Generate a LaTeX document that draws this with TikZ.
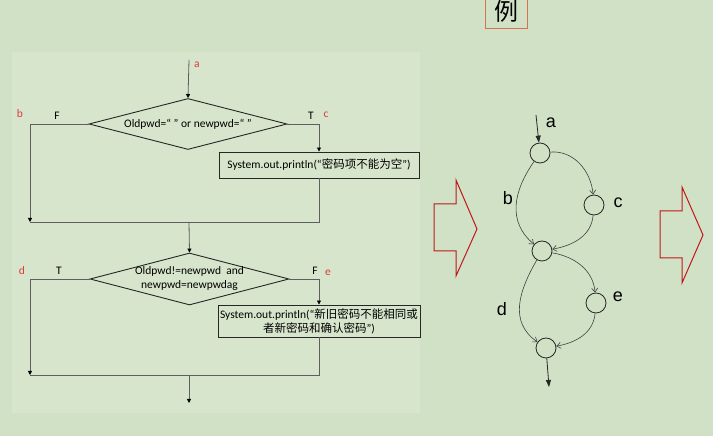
\documentclass[tikz,border=0pt]{standalone}
\usepackage{fontspec}
\setmainfont{Carlito}
\newfontfamily\cjk{Noto Sans CJK SC}
\newfontfamily\graphfont{Liberation Sans}
\usetikzlibrary{shapes.geometric}
\usetikzlibrary{positioning}
\usetikzlibrary{arrows.meta}
\definecolor{slidebg}{HTML}{D1E1C6}
\definecolor{panelbg}{HTML}{D7E5CC}
\definecolor{linegray}{HTML}{5E5E5E}
\definecolor{labelred}{HTML}{E03A3A}
\definecolor{arrowred}{HTML}{C0171C}
\definecolor{boxorange}{HTML}{D4734F}

\begin{document}
\begin{tikzpicture}[x=1pt, y=1pt,
        every node/.style={font=\fontsize{11.5}{14}\selectfont},
        flow/.style={draw=linegray, line width=0.8pt, -{Triangle[length=4pt, width=4pt, color=black]}},
        plain/.style={draw=linegray, line width=0.8pt},
        decision/.style={diamond, draw=black!85, line width=0.9pt, aspect=3.9, minimum width=198pt, minimum height=51pt, inner sep=0pt},
        stmt/.style={draw=black!85, line width=0.9pt, minimum width=200pt, inner sep=2pt, align=center},
        tag/.style={text=labelred},
        vertex/.style={circle, draw=black!85, line width=0.8pt, minimum size=20pt, inner sep=0pt},
        arc/.style={draw=black!75, line width=0.6pt, -{Straight Barb[length=4pt, width=6pt]}},
        io/.style={draw=black!85, line width=0.8pt, -{Triangle[length=7pt, width=5pt]}},
        glabel/.style={font=\graphfont\fontsize{18}{20}\selectfont},
        blockarrow/.style={draw=arrowred, line width=1pt, line join=miter}]
    \useasboundingbox (0,0) rectangle (713,436);
    \fill[slidebg] (0,0) rectangle (713,436);
    \fill[panelbg] (12,23) rectangle (420,384);

    % flow chart
    \coordinate (start) at (189,376);
    \node[tag] at (197,371) {a};
    \node[decision] (cond1) at (188,312) {};
    \node (cond1 text) at (cond1) {Oldpwd=“ ” or newpwd=“ ”};
    \node[stmt, minimum height=26pt] (print1) at (319,271) {System.out.println(“{\cjk 密码项不能为空}”)};
    \coordinate (join1 left) at (30,214);
    \coordinate (join1) at (189,214);

    \node[tag] at (20,322) {b};
    \node at (57,320) {F};
    \node at (311,320) {T};
    \node[tag] at (326,321) {c};

    \draw[flow] (start) -- (cond1.north);
    \draw[flow] (cond1.west) -| (join1 left);
    \draw[flow] (cond1.east) -| (print1.north);
    \draw[plain] (print1.south) |- (join1 left);

    \node[decision, minimum width=199pt, minimum height=52pt] (cond2) at (189.5,157) {};
    \node[align=center] (cond2 text) at (cond2) {Oldpwd!=newpwd\ \ and\\newpwd=newpwdag};
    \node[stmt, minimum height=32pt] (print2) at (319,115) {System.out.println(“{\cjk 新旧密码不能相同或}\\{\cjk 者新密码和确认密码}”)};
    \coordinate (join2 left) at (30,61);
    \coordinate (join2) at (189,61);
    \coordinate (end) at (189,33);

    \node[tag] at (22,165) {d};
    \node at (59,165) {T};
    \node at (315,165) {F};
    \node[tag] at (328,163) {e};

    \draw[flow] (join1) -- (cond2.north);
    \draw[flow] (cond2.west) -| (join2 left);
    \draw[flow] (cond2.east) -| (print2.north);
    \draw[plain] (print2.south) |- (join2 left);
    \draw[flow] (join2) -- (end);

    % example box
    \node[draw=boxorange, line width=0.8pt, minimum width=42pt, minimum height=34pt, anchor=south, font=\cjk\fontsize{24}{26}\selectfont] (example) at (506,407) {例};

    % block arrows
    \draw[blockarrow] (434,232) -- (456,232) -- (456,256) -- (477,207) -- (456,160) -- (456,185) -- (434,185) -- cycle;
    \draw[blockarrow] (660,225) -- (682,225) -- (682,249) -- (703,201) -- (682,153) -- (682,178) -- (660,178) -- cycle;

    % flow graph
    \node[vertex] (n1) at (540,283) {};
    \node[vertex] (n2) at (594,231) {};
    \node[vertex] (n3) at (542,185) {};
    \node[vertex] (n4) at (596,133) {};
    \node[vertex] (n5) at (546,88) {};
    \coordinate (in) at (536,321);
    \coordinate (out) at (549,49);

    \draw[io] (in) -- (n1);
    \draw[arc] (n1) to[out=235, in=140, looseness=1.1] (n3);
    \draw[arc] (n1) to[out=5, in=95] (n2);
    \draw[arc] (n2) to[out=265, in=10] (n3);
    \draw[arc] (n3) to[out=-10, in=95] (n4);
    \draw[arc] (n3) to[out=240, in=145, looseness=1.1] (n5);
    \draw[arc] (n4) to[out=265, in=10] (n5);
    \draw[io] (n5) -- (out);

    \node[glabel] at (551,313) {a};
    \node[glabel] at (508,238) {b};
    \node[glabel] at (618,233) {c};
    \node[glabel] at (502,127) {d};
    \node[glabel] at (618,139) {e};
\end{tikzpicture}
\end{document}
